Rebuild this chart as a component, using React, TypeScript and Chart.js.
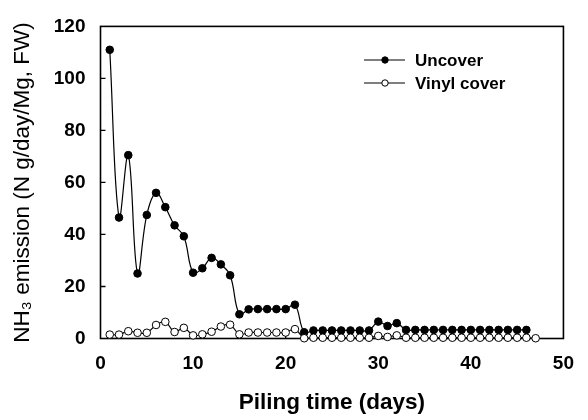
import React, { useEffect, useRef } from "react";
import { Chart, registerables } from "chart.js";

Chart.register(...registerables);

const uncoverDays = [1, 2, 3, 4, 5, 6, 7, 8, 9, 10, 11, 12, 13, 14, 15, 16, 17, 18, 19, 20, 21, 22, 23, 24, 25, 26, 27, 28, 29, 30, 31, 32, 33, 34, 35, 36, 37, 38, 39, 40, 41, 42, 43, 44, 45, 46];
const uncoverValues = [111, 46.5, 70.5, 25, 47.5, 56, 50.5, 43.5, 39.3, 25.3, 27, 31, 28.5, 24.3, 9.3, 11.2, 11.3, 11.3, 11.3, 11.3, 13, 2.4, 3.1, 3.1, 3.1, 3.1, 3.1, 3.1, 3.1, 6.5, 4.8, 5.9, 3.3, 3.3, 3.3, 3.3, 3.3, 3.3, 3.3, 3.3, 3.3, 3.3, 3.3, 3.3, 3.3, 3.3];

const vinylDays = [1, 2, 3, 4, 5, 6, 7, 8, 9, 10, 11, 12, 13, 14, 15, 16, 17, 18, 19, 20, 21, 22, 23, 24, 25, 26, 27, 28, 29, 30, 31, 32, 33, 34, 35, 36, 37, 38, 39, 40, 41, 42, 43, 44, 45, 46, 47];
const vinylValues = [1.5, 1.5, 2.8, 2.2, 2.2, 5.2, 6.4, 2.5, 4.1, 1.2, 1.6, 2.6, 4.6, 5.3, 1.6, 2.3, 2.3, 2.3, 2.3, 2.3, 3.6, 0.1, 0.3, 0.3, 0.3, 0.3, 0.3, 0.3, 0.3, 1.0, 0.6, 1.2, 0.3, 0.3, 0.3, 0.3, 0.3, 0.3, 0.3, 0.3, 0.3, 0.3, 0.3, 0.3, 0.3, 0.3, 0.1];

const xTickValues = [0, 10, 20, 30, 40, 50];
const yTickValues = [0, 20, 40, 60, 80, 100, 120];

const seriesNames = ["Uncover", "Vinyl cover"];
const xTitle = "Piling time (days)";
const yTitle = "NH\u2083 emission (N g/day/Mg, FW)";

const FONT = "'Liberation Sans', Arial, Helvetica, sans-serif";

const framePlugin = {
  id: "framePlugin",
  beforeDatasetsDraw(chart: any) {
    const { ctx, chartArea } = chart;
    const { left, right, top, bottom } = chartArea;
    const xs = chart.scales.x;
    const ys = chart.scales.y;
    ctx.save();
    ctx.strokeStyle = "#000";
    ctx.lineWidth = 1.6;
    ctx.strokeRect(left, top, right - left, bottom - top);
    ctx.lineWidth = 1.3;
    ctx.beginPath();
    yTickValues.forEach((v) => {
      if (v === yTickValues[0] || v === yTickValues[yTickValues.length - 1]) return;
      const y = ys.getPixelForValue(v);
      ctx.moveTo(left, y);
      ctx.lineTo(left + 5, y);
    });
    xTickValues.forEach((v) => {
      if (v === xTickValues[0] || v === xTickValues[xTickValues.length - 1]) return;
      const x = xs.getPixelForValue(v);
      ctx.moveTo(x, bottom);
      ctx.lineTo(x, bottom - 5);
    });
    ctx.stroke();
    ctx.restore();
  },
};

const legendPlugin = {
  id: "customLegend",
  afterDraw(chart: any) {
    const { ctx } = chart;
    const items = [
      { label: seriesNames[0], fill: "#000", y: 60 },
      { label: seriesNames[1], fill: "#fff", y: 83 },
    ];
    ctx.save();
    items.forEach((it) => {
      ctx.strokeStyle = "#000";
      ctx.lineWidth = 1.2;
      ctx.beginPath();
      ctx.moveTo(364, it.y);
      ctx.lineTo(405, it.y);
      ctx.stroke();
      ctx.beginPath();
      ctx.arc(385, it.y, 3.2, 0, Math.PI * 2);
      ctx.fillStyle = it.fill;
      ctx.fill();
      ctx.lineWidth = 1;
      ctx.stroke();
      ctx.fillStyle = "#000";
      ctx.font = `bold 17px ${FONT}`;
      ctx.textBaseline = "middle";
      ctx.textAlign = "left";
      ctx.fillText(it.label, 415, it.y + 1);
    });
    ctx.restore();
  },
};

export default function App() {
  const canvasRef = useRef<HTMLCanvasElement | null>(null);

  useEffect(() => {
    const canvas = canvasRef.current;
    if (!canvas) return;
    const chart = new Chart(canvas, {
      type: "line",
      data: {
        datasets: [
          {
            label: seriesNames[0],
            data: uncoverDays.map((d, i) => ({ x: d, y: uncoverValues[i] })),
            borderColor: "#000",
            borderWidth: 1.2,
            backgroundColor: "#000",
            pointBackgroundColor: "#000",
            pointBorderColor: "#000",
            pointBorderWidth: 1,
            pointRadius: 3.8,
            tension: 0.4,
            clip: false as any,
            order: 2,
          },
          {
            label: seriesNames[1],
            data: vinylDays.map((d, i) => ({ x: d, y: vinylValues[i] })),
            borderColor: "#000",
            borderWidth: 1.2,
            backgroundColor: "#fff",
            pointBackgroundColor: "#fff",
            pointBorderColor: "#000",
            pointBorderWidth: 1,
            pointRadius: 3.8,
            tension: 0.4,
            clip: false as any,
            order: 1,
          },
        ],
      },
      options: {
        animation: false,
        responsive: true,
        maintainAspectRatio: false,
        layout: { padding: { top: 15, right: 23, left: 0, bottom: 0 } },
        plugins: {
          legend: { display: false },
          tooltip: { enabled: false },
        },
        scales: {
          x: {
            type: "linear",
            min: 0,
            max: 50,
            afterFit: (s: any) => {
              s.height = 81.5;
            },
            afterBuildTicks: (s: any) => {
              s.ticks = xTickValues.map((v) => ({ value: v }));
            },
            grid: { display: false, drawTicks: false },
            border: { display: false },
            ticks: {
              color: "#000",
              padding: 14,
              font: { family: FONT, size: 19, weight: "bold" },
              maxRotation: 0,
            },
            title: {
              display: true,
              text: xTitle,
              color: "#000",
              font: { family: FONT, size: 22.5, weight: "bold" },
              padding: { top: 0, bottom: 4 },
            },
          },
          y: {
            type: "linear",
            min: 0,
            max: 120,
            afterFit: (s: any) => {
              s.width = 100.5;
            },
            afterBuildTicks: (s: any) => {
              s.ticks = yTickValues.map((v) => ({ value: v }));
            },
            grid: { display: false, drawTicks: false },
            border: { display: false },
            ticks: {
              color: "#000",
              padding: 15,
              font: { family: FONT, size: 19, weight: "bold" },
            },
            title: {
              display: true,
              text: yTitle,
              color: "#000",
              font: { family: FONT, size: 22.5, weight: "normal" },
              padding: { top: 9, bottom: 0 },
            },
          },
        },
      } as any,
      plugins: [framePlugin, legendPlugin],
    });
    return () => chart.destroy();
  }, []);

  return (
    <div style={{ position: "absolute", left: 0, top: 0, width: 588, height: 420, background: "#fff" }}>
      <canvas ref={canvasRef} />
    </div>
  );
}
